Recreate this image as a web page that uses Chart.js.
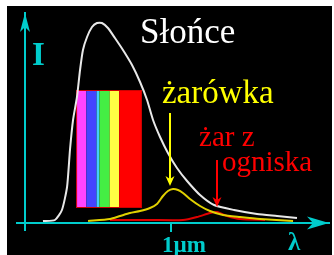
<!DOCTYPE html>
<html>
<head>
<meta charset="utf-8">
<script src="https://cdn.jsdelivr.net/npm/chart.js@4.4.0/dist/chart.umd.min.js"></script>
<style>
  html, body { margin: 0; padding: 0; background: #fff; }
  canvas { display: block; }
</style>
</head>
<body>
<canvas id="spectrumChart" width="334" height="255"></canvas>
<script>
// wavelength in µm, intensity in arbitrary units
const sunX = [0.123, 0.205, 0.253, 0.288, 0.308, 0.329, 0.356, 0.377, 0.397, 0.425, 0.459, 0.493, 0.527, 0.568, 0.616, 0.671, 0.733, 0.788, 0.836, 0.877, 0.925, 0.979, 1.041, 1.110, 1.199, 1.295, 1.432, 1.589, 1.726, 1.863];
const sunY = [2, 3, 13, 36, 73, 103, 126, 153, 173, 186, 196, 200, 200, 195, 185, 173, 158, 141, 123, 103, 86, 70, 55, 42, 28, 18, 13, 9, 7, 5];

const bulbX = [0.432, 0.582, 0.651, 0.719, 0.788, 0.856, 0.904, 0.945, 0.979, 1.014, 1.048, 1.082, 1.130, 1.199, 1.267, 1.356, 1.473, 1.610, 1.836];
const bulbY = [2, 4, 7, 10, 12, 15, 19, 27, 32, 34, 33, 30, 24, 17, 12, 8, 6, 4, 2];

const fireX = [0.582, 0.856, 1.082, 1.178, 1.267, 1.315, 1.384, 1.473, 1.644];
const fireY = [3, 3, 3, 6, 10, 11, 7, 4, 3];

const xTicks = [1];
const xTickLabels = ['1µm'];

// visible spectrum stripes
const spectrumEdges = [0.35, 0.42, 0.49, 0.51, 0.58, 0.645, 0.80];
const spectrumColors = ['#ff44ff', '#4444ff', '#44ccff', '#44ee44', '#ffff44', '#ff0000'];
const spectrumLow = 15;
const spectrumHigh = 133;

// captions and pointer arrows
const labelTexts = ['Słońce', 'żarówka', 'żar z', 'ogniska'];
const labelX = [0.788, 0.938, 1.192, 1.349];
const labelY = [180, 120, 77, 52];
const labelColors = ['#ffffff', '#ffff00', '#ff0000', '#ff0000'];
const labelSizes = [35, 33, 29, 29];

const arrowX = [0.993, 1.315];
const arrowTop = [110, 63];
const arrowTip = [37, 16];
const arrowColors = ['#ffff00', '#ff0000'];

const AXIS = '#00cccc';

function toPoints(xs, ys) {
    return xs.map((x, i) => ({ x: x, y: ys[i] }));
}

function arrowHead(ctx, tx, ty, ux, uy, len, half, notch) {
    const bx = tx - ux * len, by = ty - uy * len;
    const px = -uy, py = ux;
    ctx.beginPath();
    ctx.moveTo(tx, ty);
    ctx.lineTo(bx + px * half, by + py * half);
    ctx.lineTo(tx - ux * (len - notch), ty - uy * (len - notch));
    ctx.lineTo(bx - px * half, by - py * half);
    ctx.closePath();
    ctx.fill();
}

const backdrop = {
    id: 'backdrop',
    beforeDraw(chart) {
        const { ctx, width, height } = chart;
        ctx.save();
        ctx.fillStyle = '#ffffff';
        ctx.fillRect(0, 0, width, height);
        ctx.fillStyle = '#000000';
        ctx.fillRect(7, 6, width - 9, height - 6);
        ctx.restore();
    }
};

const spectrum = {
    id: 'spectrum',
    beforeDatasetsDraw(chart) {
        const { ctx, scales: { x, y } } = chart;
        const top = y.getPixelForValue(spectrumHigh);
        const bottom = y.getPixelForValue(spectrumLow);
        ctx.save();
        for (let i = 0; i < spectrumColors.length; i++) {
            const x0 = x.getPixelForValue(spectrumEdges[i]);
            const x1 = x.getPixelForValue(spectrumEdges[i + 1]);
            ctx.fillStyle = spectrumColors[i];
            ctx.fillRect(x0, top, x1 - x0, bottom - top);
        }
        const left = x.getPixelForValue(spectrumEdges[0]);
        const right = x.getPixelForValue(spectrumEdges[spectrumEdges.length - 1]);
        ctx.strokeStyle = '#cc0000';
        ctx.lineWidth = 1;
        ctx.strokeRect(left + 0.5, top + 0.5, right - left - 1, bottom - top - 1);
        ctx.restore();
    }
};

const annotations = {
    id: 'annotations',
    afterDatasetsDraw(chart) {
        const { ctx, chartArea, scales: { x, y } } = chart;
        ctx.save();

        // axis arrowheads
        ctx.fillStyle = AXIS;
        arrowHead(ctx, chartArea.right, y.getPixelForValue(0), 1, 0, 22, 6.5, 6);
        arrowHead(ctx, x.getPixelForValue(0), chartArea.top, 0, -1, 19, 5, 5);

        // axis letters
        ctx.textAlign = 'left';
        ctx.textBaseline = 'alphabetic';
        ctx.font = 'bold 33px "Liberation Serif"';
        ctx.fillText('I', 32, 65);
        ctx.font = 'bold 25px "Liberation Serif"';
        ctx.fillText('λ', 288, 250);

        // captions
        labelTexts.forEach((t, i) => {
            ctx.fillStyle = labelColors[i];
            ctx.font = labelSizes[i] + 'px "Liberation Serif"';
            ctx.fillText(t, x.getPixelForValue(labelX[i]), y.getPixelForValue(labelY[i]));
        });

        // pointer arrows
        arrowX.forEach((ax, i) => {
            const px = Math.round(x.getPixelForValue(ax));
            const y0 = y.getPixelForValue(arrowTop[i]);
            const y1 = y.getPixelForValue(arrowTip[i]);
            ctx.strokeStyle = arrowColors[i];
            ctx.fillStyle = arrowColors[i];
            ctx.lineWidth = 2;
            ctx.beginPath();
            ctx.moveTo(px, y0);
            ctx.lineTo(px, y1 - 6);
            ctx.stroke();
            arrowHead(ctx, px, y1, 0, 1, 10, 4.5, 3);
        });
        ctx.restore();
    }
};

const ctx = document.getElementById('spectrumChart').getContext('2d');
new Chart(ctx, {
    type: 'line',
    data: {
        datasets: [
            { label: 'Słońce', data: toPoints(sunX, sunY), borderColor: '#e8e8e8', borderWidth: 2, pointRadius: 0, tension: 0.2 },
            { label: 'żarówka', data: toPoints(bulbX, bulbY), borderColor: '#e0d000', borderWidth: 2, pointRadius: 0, tension: 0.2 },
            { label: 'żar z ogniska', data: toPoints(fireX, fireY), borderColor: '#e00000', borderWidth: 2, pointRadius: 0, tension: 0.2 }
        ]
    },
    options: {
        responsive: false,
        animation: false,
        layout: { padding: { left: 17, right: 5, top: 13, bottom: 25 } },
        plugins: { legend: { display: false }, tooltip: { enabled: false } },
        scales: {
            x: {
                type: 'linear',
                min: -0.0548,
                max: 2.0822,
                position: { y: 0 },
                border: { color: AXIS, width: 2 },
                grid: { drawOnChartArea: false, drawTicks: true, tickLength: 8, color: AXIS, lineWidth: 2 },
                afterBuildTicks: (scale) => { scale.ticks = xTicks.map(v => ({ value: v })); },
                ticks: {
                    color: AXIS,
                    font: { family: 'Liberation Serif', size: 23, weight: 'bold' },
                    padding: 1,
                    labelOffset: 13,
                    maxRotation: 0,
                    autoSkip: false,
                    callback: (v) => xTickLabels[xTicks.indexOf(v)] ?? ''
                }
            },
            y: {
                type: 'linear',
                min: -7,
                max: 210,
                position: { x: 0 },
                border: { color: AXIS, width: 2 },
                grid: { display: false },
                ticks: { display: false }
            }
        }
    },
    plugins: [backdrop, spectrum, annotations]
});
</script>
</body>
</html>
